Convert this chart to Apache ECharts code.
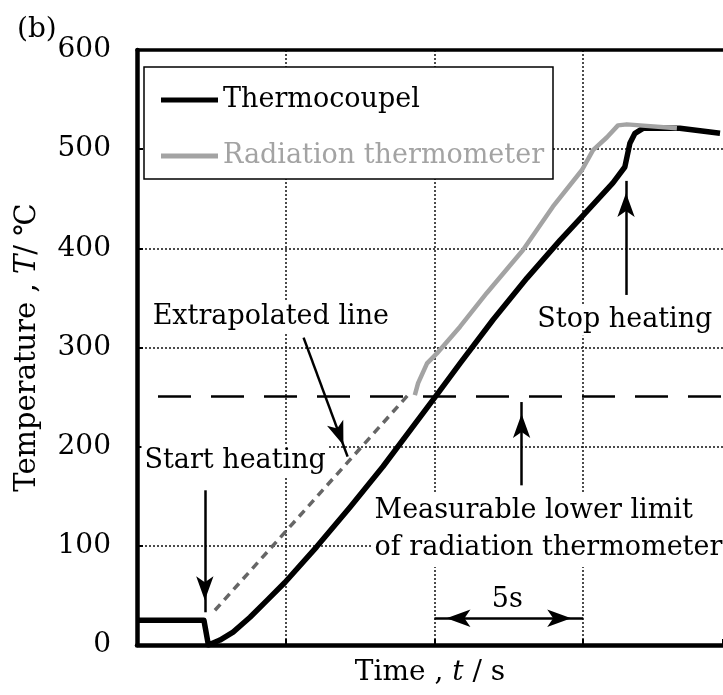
<!DOCTYPE html>
<html><head><meta charset="utf-8">
<script src="https://cdn.jsdelivr.net/npm/echarts@6/dist/echarts.min.js"></script>
<style>html,body{margin:0;padding:0;background:#fff}#c{width:723px;height:695px}</style>
</head><body><div id="c"></div>
<script>
const FONT = '"DejaVu Serif", serif';
// Thermocouple (time s, temperature °C)
const thermoTime = [0, 2.25, 2.40, 2.79, 3.23, 3.80, 4.37, 4.97, 6.04, 7.16, 8.27, 10.02, 10.86, 11.97, 13.11, 14.22, 14.96, 16.0, 16.40, 16.57, 16.74, 17.01, 18.25, 19.6];
const thermoTemp = [25, 25, 0, 5, 13, 28, 45, 63, 99, 139, 180, 250, 284, 328, 370, 408, 432, 466, 482, 506, 516, 521, 521, 516];
// Radiation thermometer
const radTime = [9.34, 9.45, 9.75, 10.08, 10.86, 11.76, 12.97, 13.98, 14.96, 15.33, 15.80, 16.17, 16.47, 18.15];
const radTemp = [252, 264, 284, 294, 321, 355, 398, 442, 479, 499, 512, 524, 525, 521];
// Extrapolated line
const extraTime = [2.62, 9.11];
const extraTemp = [35, 252];
// Measurable lower limit
const lowerLimit = 251;
const yTickValues = [0, 100, 200, 300, 400, 500, 600];
const xMax = 19.7;
const seriesNames = ['Thermocoupel', 'Radiation thermometer'];

const zip = (a, b) => a.map((v, i) => [v, b[i]]);
const arrowEnd = (c) => ({coord: c, symbol: 'arrow', symbolSize: [13, 24], symbolOffset: [0, 12]});
const plain = (c) => ({coord: c, symbol: 'none'});
const arrowLine = (from, to) => [plain(from), arrowEnd(to)];
const txt = (coord, text, extra) => Object.assign({
  coord, value: 0, symbol: 'rect', symbolSize: 1, itemStyle: {color: 'rgba(0,0,0,0)'},
  label: {show: true, position: 'inside', formatter: text, color: '#000', fontFamily: FONT, fontSize: 27,
    backgroundColor: '#fff', padding: [2, 3]}
}, extra || {});

const chart = echarts.init(document.getElementById('c'), null, {renderer: 'canvas'});
chart.setOption({
  animation: false,
  backgroundColor: '#fff',
  title: {text: '(b)', left: 12, top: 11, textStyle: {fontFamily: FONT, fontSize: 28, fontWeight: 'normal', color: '#000'}},
  grid: {left: 137, top: 50, right: 0, bottom: 50, containLabel: false},
  legend: {
    orient: 'vertical', left: 156, top: 80, itemWidth: 57, itemHeight: 5, itemGap: 26, z: 10,
    textStyle: {fontFamily: FONT, fontSize: 27, lineHeight: 30},
    data: [
      {name: seriesNames[0], icon: 'rect', textStyle: {color: '#000'}},
      {name: seriesNames[1], icon: 'rect', textStyle: {color: '#a3a3a3'}}
    ]
  },
  graphic: [{type: 'rect', z: 5, shape: {x: 144, y: 67, width: 409, height: 112},
    style: {fill: '#fff', stroke: '#000', lineWidth: 1.5}}],
  xAxis: [{
    type: 'value', min: 0, max: xMax, interval: 5, position: 'bottom',
    name: 'Time , {i|t} / s', nameLocation: 'middle', nameGap: 14,
    nameTextStyle: {fontFamily: FONT, fontSize: 28, color: '#000', verticalAlign: 'top',
      rich: {i: {fontFamily: FONT, fontSize: 28, fontStyle: 'italic', color: '#000'}}},
    axisLine: {show: true, onZero: false, lineStyle: {color: '#000', width: 4.5}},
    axisTick: {show: true, inside: true, length: 6, lineStyle: {color: '#000', width: 2}},
    axisLabel: {show: false},
    splitLine: {show: true, showMaxLine: false, lineStyle: {color: '#111', width: 1.5, type: [2, 2]}}
  }, {
    type: 'value', min: 0, max: xMax, interval: 5, position: 'top',
    axisLine: {show: true, onZero: false, lineStyle: {color: '#000', width: 3.5}},
    axisTick: {show: false}, axisLabel: {show: false}, splitLine: {show: false}
  }],
  yAxis: {
    type: 'value', min: yTickValues[0], max: yTickValues[yTickValues.length - 1], interval: 100,
    name: 'Temperature , {i|T}/ ℃', nameLocation: 'middle', nameGap: 95,
    nameTextStyle: {fontFamily: FONT, fontSize: 29, color: '#000',
      rich: {i: {fontFamily: FONT, fontSize: 29, fontStyle: 'italic', color: '#000'}}},
    axisLine: {show: true, lineStyle: {color: '#000', width: 4.5}},
    axisTick: {show: true, inside: true, length: 6, lineStyle: {color: '#000', width: 2}},
    axisLabel: {show: true, margin: 26, fontFamily: FONT, fontSize: 28, color: '#000'},
    splitLine: {show: true, lineStyle: {color: '#111', width: 1.5, type: [2, 2]}}
  },
  series: [
    {
      name: 'Extrapolated', type: 'line', data: zip(extraTime, extraTemp), showSymbol: false, z: 3,
      lineStyle: {color: '#666', width: 3.5, type: [8, 6]},
      markLine: {
        silent: true, symbol: 'none', label: {show: false},
        lineStyle: {color: '#000', width: 2.5, type: 'solid'},
        data: [
          {yAxis: lowerLimit, symbol: 'none', lineStyle: {color: '#000', width: 2.5, type: [33, 20], dashOffset: 32}},
          arrowLine([2.28, 156], [2.28, 33]),
          arrowLine([5.6, 310], [7.08, 190]),
          arrowLine([12.93, 161], [12.93, 245]),
          arrowLine([16.44, 353], [16.44, 468]),
          [arrowEnd([10, 27]), arrowEnd([15, 27])]
        ]
      },
      markPoint: {
        silent: true,
        data: [
          txt([4.5, 330.5], 'Extrapolated line'),
          txt([3.3, 185.5], 'Start heating'),
          txt([16.4, 327.5], 'Stop heating'),
          txt([12.45, 45.5], '5s', {label: {show: true, position: 'inside', formatter: '5s', color: '#000', fontFamily: FONT, fontSize: 27}}),
          txt([7.9, 116], 'Measurable lower limit\nof radiation thermometer', {label: {show: true, position: 'right', distance: 0, align: 'left',
            formatter: 'Measurable lower limit\nof radiation thermometer', color: '#000', fontFamily: FONT, fontSize: 27, lineHeight: 37,
            backgroundColor: '#fff', padding: [0, 2]}})
        ]
      }
    },
    {
      name: seriesNames[0], type: 'line', data: zip(thermoTime, thermoTemp), showSymbol: false, z: 4,
      color: '#000', lineStyle: {color: '#000', width: 5.5, join: 'round'}
    },
    {
      name: seriesNames[1], type: 'line', data: zip(radTime, radTemp), showSymbol: false, z: 5,
      color: '#a3a3a3', lineStyle: {color: '#a3a3a3', width: 4.5, join: 'round'}
    }
  ]
});
</script>
</body></html>
